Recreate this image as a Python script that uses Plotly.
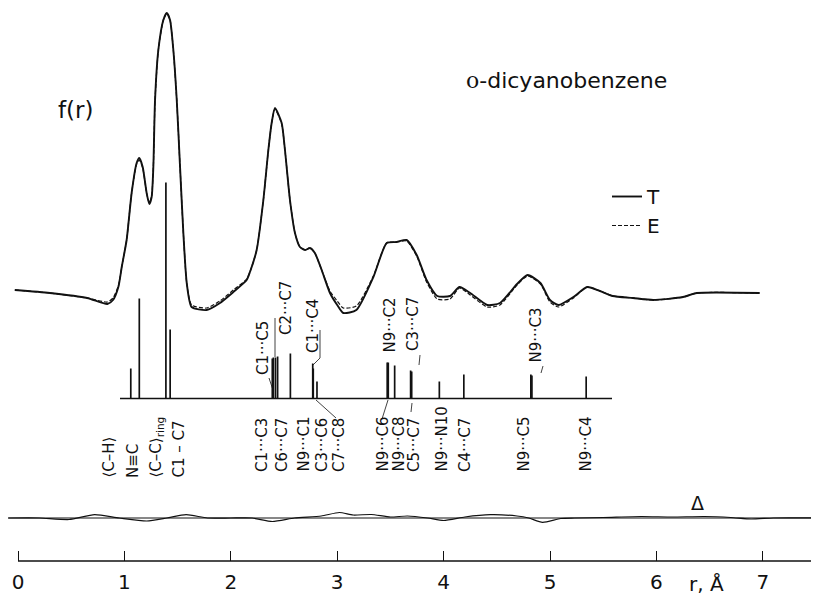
import plotly.graph_objects as go

# ---------------- data ----------------
# radial distribution curve, r in Angstrom, f(r) in arbitrary units
r_curve = [-0.03, 0.30, 0.65, 0.84, 0.893, 0.943, 0.975, 1.021, 1.068, 1.115, 1.14, 1.172,
           1.209, 1.234, 1.256, 1.272, 1.288, 1.319, 1.366, 1.398, 1.429, 1.460, 1.492,
           1.523, 1.554, 1.586, 1.632, 1.773, 1.898, 2.024, 2.149, 2.18, 2.243, 2.306,
           2.353, 2.384, 2.415, 2.478, 2.509, 2.556, 2.603, 2.65, 2.70, 2.744, 2.79,
           2.854, 2.932, 3.0, 3.057, 3.18, 3.34, 3.465, 3.559, 3.653, 3.747, 3.84, 3.94,
           4.06, 4.15, 4.25, 4.41, 4.53, 4.69, 4.79, 4.91, 5.00, 5.08, 5.22, 5.35, 5.47,
           5.59, 5.78, 5.97, 6.25, 6.38, 6.97]
f_T = [10, 7, 2, -4, 0, 13, 33, 60, 107, 137, 142, 133,
       107, 96, 103, 133, 200, 250, 280, 287, 280, 250, 200,
       133, 67, 17, -7, -10, -3, 8, 20, 28, 50, 100,
       150, 177, 192, 177, 150, 100, 67, 53, 50, 52, 47,
       30, 7, -5, -13, -10, 23, 57, 58, 60, 45, 20, 4,
       4, 13, 7, -5, -3, 16, 25, 17, 0, -5, 3, 13, 9,
       4, 2, 0, 3, 7, 7]
f_E = [10, 7, 2, -2, 2, 14, 33, 60, 107, 136, 140, 132,
       107, 97, 104, 133, 200, 250, 280, 287, 280, 250, 200,
       133, 67, 17, -5, -8, -1, 10, 21, 28, 50, 100,
       150, 177, 191, 176, 150, 100, 67, 53, 50, 52, 47,
       30, 9, -1, -8, -6, 24, 57, 58, 59, 44, 18, 1,
       1, 12, 5, -7, -5, 15, 24, 16, -2, -7, 2, 13, 9,
       4, 2, 0, 3, 7, 7]

# difference curve Delta = E - T
r_delta = [-0.09, 0.2, 0.48, 0.72, 0.95, 1.21, 1.4, 1.58, 1.78, 2.0, 2.2, 2.39, 2.6, 2.85,
           3.02, 3.15, 3.32, 3.5, 3.66, 3.85, 4.0, 4.2, 4.44, 4.69, 4.8, 4.93, 5.1, 5.23,
           5.5, 5.86, 6.15, 6.45, 6.7, 6.89, 7.1, 7.53]
delta = [0, 0, -1.5, 3.3, 0, -3, 0, 3.3, 0, 0, 0, -3.5, 0, 2,
         5.5, 3, 3.5, 1, 2, 0, -2.5, 1, 3.3, 2, 0, -4.3, -0.5, 0,
         0.5, 1.5, 1, 1.5, 0.5, -1, 0, 0]

# interatomic distances (stick diagram)
stick_names = ["C-H", "N≡C", "C-C ring", "C1-C7", "C1···C3", "C1···C5", "C6···C7", "C2···C7",
               "N9···C1", "C1···C4", "C3···C6", "C7···C8", "N9···C6", "N9···C2", "N9···C8",
               "C3···C7", "C5···C7", "N9···N10", "C4···C7", "N9···C3", "N9···C5", "N9···C4"]
stick_r = [1.06, 1.14, 1.39, 1.43, 2.39, 2.40, 2.42, 2.44,
           2.56, 2.77, 2.775, 2.81, 3.47, 3.48, 3.54,
           3.69, 3.70, 3.96, 4.19, 4.82, 4.83, 5.34]
stick_h = [30, 100, 216, 69, 40, 41, 41, 42,
           45, 35, 30, 17, 36, 36, 33,
           28, 27, 17, 24, 24, 23, 22]

tick_vals = [0, 1, 2, 3, 4, 5, 6, 7]
tick_text = ["0", "1", "2", "3", "4", "5", "6", "7"]

# ---------------- layout helpers (page pixel -> data) ----------------
# the page body adds an 8 px margin, so the figure is 811 x 597 placed at (8, 8)
OFF = 8
FIG_W, FIG_H = 819 - OFF, 605 - OFF
X0, SX = 18.0, 106.4          # page pixel of r=0, pixels per Angstrom
AXIS_Y = 561                  # page pixel of the bottom axis line
PLOT_H = AXIS_Y - OFF         # plot-area height in pixels


def rx(xp):
    return (xp - X0) / SX


def vy(yp):
    return AXIS_Y - yp


BASE_F = vy(300)     # curve baseline
BASE_S = vy(398.5)   # stick baseline
BASE_D = vy(518)     # delta baseline

FONT = "DejaVu Sans"
BLACK = "#111111"

fig = go.Figure()

fig.add_trace(go.Scatter(
    x=r_curve, y=[BASE_F + v for v in f_E], mode="lines", name="E", legendrank=2,
    line=dict(color=BLACK, width=1.2, dash="4px,2px", shape="spline", smoothing=0.6)))
fig.add_trace(go.Scatter(
    x=r_curve, y=[BASE_F + v for v in f_T], mode="lines", name="T", legendrank=1,
    line=dict(color=BLACK, width=1.9, shape="spline", smoothing=0.6)))

sx, sy = [], []
for r, h in zip(stick_r, stick_h):
    sx += [r, r, None]
    sy += [BASE_S, BASE_S + h, None]
fig.add_trace(go.Scatter(x=sx, y=sy, mode="lines", showlegend=False,
                         line=dict(color=BLACK, width=1.7), hoverinfo="skip"))

fig.add_trace(go.Scatter(
    x=r_delta, y=[BASE_D + v for v in delta], mode="lines", showlegend=False,
    line=dict(color=BLACK, width=1.2, shape="spline", smoothing=0.6)))

shapes = []
# stick baseline
shapes.append(dict(type="line", xref="x", yref="y", x0=rx(120), x1=rx(612), y0=BASE_S, y1=BASE_S,
                   line=dict(color=BLACK, width=1.4)))
# delta zero line
shapes.append(dict(type="line", xref="x", yref="y", x0=rx(8), x1=rx(819), y0=BASE_D, y1=BASE_D,
                   line=dict(color=BLACK, width=1)))
# bottom axis line
shapes.append(dict(type="line", xref="x", yref="paper", x0=0, x1=rx(819), y0=0, y1=0,
                   line=dict(color=BLACK, width=1.6)))
# leader lines (page-pixel polylines)
leaders = [
    [(269, 378), (273, 390)],
    [(275, 318), (275, 357)],
    [(320, 330), (320, 358), (313, 365)],
    [(420, 355), (419, 365)],
    [(543, 366), (541, 373)],
    [(316, 400), (336, 418)],
    [(388, 400), (382, 419)],
    [(412, 403), (411, 412)],
]
for pts in leaders:
    for (xa, ya), (xb, yb) in zip(pts[:-1], pts[1:]):
        shapes.append(dict(type="line", xref="x", yref="y", x0=rx(xa), x1=rx(xb),
                           y0=vy(ya), y1=vy(yb), line=dict(color=BLACK, width=0.8)))

ann = []


def label(text, xp, yp, size=15, angle=-90, xanchor="center", yanchor="bottom"):
    ann.append(dict(text=text, x=rx(xp), y=vy(yp), xref="x", yref="y", showarrow=False,
                    textangle=angle, xanchor=xanchor, yanchor=yanchor,
                    font=dict(family=FONT, size=size, color=BLACK)))


# upper labels
label("C1···C5", 263, 377)
label("C2···C7", 286, 337)
label("C1···C4", 313, 355)
label("N9···C2", 389, 355)
label("C3···C7", 413, 353)
label("N9···C3", 535, 365)

# lower labels
label("⟨C–H⟩", 108, 480)
label("N≡C", 133, 480)
label("⟨C–C⟩<sub>ring</sub>", 156, 480)
label("C1 – C7", 178, 480)
for t, xp in [("C1···C3", 262), ("C6···C7", 282), ("N9···C1", 303), ("C3···C6", 322),
              ("C7···C8", 339), ("N9···C6", 382), ("N9···C8", 398), ("C5···C7", 414),
              ("N9···N10", 441), ("C4···C7", 465), ("N9···C5", 523), ("N9···C4", 585)]:
    label(t, xp, 474)

# other texts
label("<span style='font-family:DejaVu Serif'>o</span>-dicyanobenzene", 566, 80, size=22,
      angle=0, yanchor="middle")
label("f(r)", 76, 110, size=23, angle=0, yanchor="middle")
label("Δ", 697, 503, size=19, angle=0, yanchor="middle")
# axis title below the axis line (paper coordinates)
ann.append(dict(text="r, Å", x=rx(706), y=-(584 - AXIS_Y) / PLOT_H, xref="x", yref="paper",
                showarrow=False, xanchor="center", yanchor="middle",
                font=dict(family=FONT, size=20, color=BLACK)))

fig.update_layout(
    width=FIG_W, height=FIG_H,
    margin=dict(l=0, r=0, t=0, b=FIG_H - PLOT_H, autoexpand=False),
    paper_bgcolor="white", plot_bgcolor="white",
    shapes=shapes, annotations=ann,
    showlegend=True,
    legend=dict(x=(607 - OFF) / FIG_W, y=1 - (177 - OFF) / PLOT_H, xanchor="left", yanchor="top",
                bgcolor="rgba(0,0,0,0)", font=dict(family=FONT, size=20, color=BLACK),
                tracegroupgap=0),
    xaxis=dict(range=[rx(OFF), rx(819)], showgrid=False, zeroline=False, showline=False,
               tickmode="array", tickvals=tick_vals, ticktext=tick_text,
               ticks="inside", ticklen=10, tickwidth=1.4, tickcolor=BLACK,
               ticklabelstandoff=7,
               tickfont=dict(family=FONT, size=20, color=BLACK)),
    yaxis=dict(range=[0, PLOT_H], visible=False),
)

fig.write_html("out.html")
